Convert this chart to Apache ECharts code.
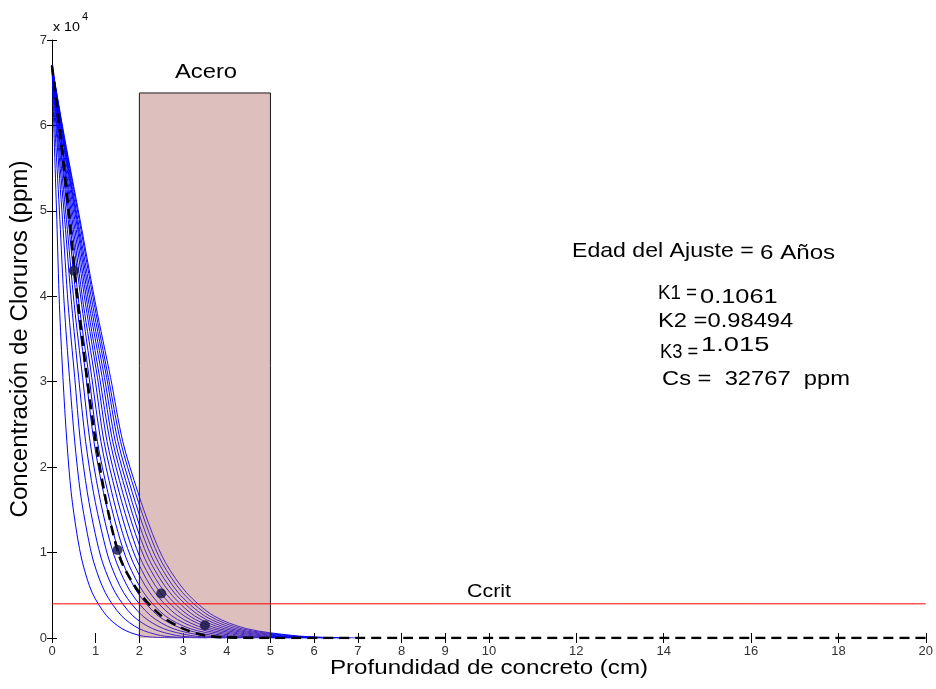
<!DOCTYPE html>
<html><head><meta charset="utf-8">
<script src="https://cdn.jsdelivr.net/npm/echarts@6/dist/echarts.min.js"></script>
<style>html,body{margin:0;padding:0;background:#fff}#c{width:936px;height:689px}</style>
</head><body><div id="c"></div>
<script>
// ---- data ----
const xTicks = [0,1,2,3,4,5,6,7,8,9,10,12,14,16,18,20];
const yTicks = [0,10000,20000,30000,40000,50000,60000,70000];
// concentration levels (ppm) at which each curve's depth (cm) was read
const levels = [67000,58500,49000,39000,30500,23000,17000,12200,8800,5300,2600,1100,300,80,0];
const curve01 = [0,0.05,0.11,0.17,0.25,0.34,0.44,0.57,0.70,0.92,1.25,1.60,2.00,2.40,3.00];
const curve02 = [0,0.08,0.18,0.28,0.40,0.52,0.65,0.81,0.96,1.22,1.59,1.99,2.48,2.92,3.55];
const curve03 = [0,0.11,0.24,0.37,0.52,0.65,0.81,0.99,1.16,1.45,1.85,2.30,2.85,3.33,3.98];
const curve04 = [0,0.13,0.29,0.45,0.61,0.77,0.95,1.15,1.33,1.64,2.07,2.55,3.17,3.67,4.33];
const curve05 = [0,0.15,0.33,0.51,0.70,0.87,1.07,1.28,1.48,1.81,2.26,2.77,3.44,3.97,4.65];
const curve06 = [0,0.17,0.37,0.57,0.78,0.96,1.18,1.41,1.62,1.96,2.43,2.98,3.69,4.24,4.93];
const curve07 = [0,0.18,0.40,0.62,0.85,1.04,1.28,1.52,1.74,2.10,2.59,3.16,3.92,4.48,5.19];
const curve08 = [0,0.20,0.43,0.68,0.91,1.12,1.37,1.62,1.86,2.24,2.74,3.34,4.13,4.71,5.44];
const curve09 = [0,0.21,0.46,0.72,0.98,1.19,1.46,1.72,1.97,2.36,2.88,3.50,4.33,4.93,5.67];
const curve10 = [0,0.22,0.49,0.77,1.04,1.26,1.54,1.82,2.07,2.48,3.02,3.66,4.52,5.14,5.88];
const curve11 = [0,0.24,0.52,0.81,1.09,1.33,1.62,1.91,2.17,2.59,3.14,3.80,4.70,5.33,6.09];
const curve12 = [0,0.25,0.55,0.85,1.15,1.39,1.70,1.99,2.26,2.70,3.26,3.94,4.88,5.52,6.29];
const curve13 = [0,0.26,0.57,0.89,1.20,1.45,1.77,2.07,2.35,2.80,3.38,4.07,5.04,5.70,6.47];
const curve14 = [0,0.27,0.59,0.93,1.25,1.51,1.84,2.15,2.44,2.89,3.49,4.20,5.20,5.87,6.66];
const curve15 = [0,0.28,0.62,0.97,1.29,1.57,1.91,2.23,2.52,2.99,3.60,4.33,5.35,6.04,6.83];
const curve16 = [0,0.29,0.64,1.00,1.34,1.62,1.97,2.30,2.60,3.08,3.70,4.45,5.50,6.20,7.00];
const blueCurves = [curve01,curve02,curve03,curve04,curve05,curve06,curve07,curve08,
                    curve09,curve10,curve11,curve12,curve13,curve14,curve15,curve16];
// fitted profile (dashed)
const fitDepth = [0,0.2,0.4,0.6,0.8,1.0,1.2,1.4,1.6,2.0,2.5,3.0,3.5,4.0,5.0,20];
const fitConc  = [67000,58500,49000,39000,30500,23000,17000,12200,8800,5300,2600,1100,300,80,0,0];
// measured points
const measDepth = [0.5,1.5,2.5,3.5];
const measConc  = [43000,10300,5200,1500];
// critical concentration and steel zone
const ccrit = 4000;
const steelFrom = 2, steelTo = 5, steelTop = 63800;

// ---- chart ----
const FONT = '"Liberation Sans", Arial, sans-serif';
const chart = echarts.init(document.getElementById('c'), null, {renderer:'canvas'});
const pairs = (xs, ys) => xs.map((x,i)=>[x, ys[i]]);

const series = [];
blueCurves.forEach((c,i)=>{
  series.push({type:'line', name:'c'+i, data:pairs(c, levels), smooth:0.3,
    symbol:'none', lineStyle:{color:'#0000ff', width:1}, z:2, silent:true, animation:false});
});
series.push({type:'line', name:'acero', data:[[steelFrom,0],[steelFrom,steelTop],[steelTo,steelTop],[steelTo,0]],
  symbol:'none', lineStyle:{color:'#1a1a1a', width:1},
  areaStyle:{color:'rgb(170,95,92)', opacity:0.4, origin:'start'}, z:3, animation:false});
series.push({type:'line', name:'ccrit', data:[[0,ccrit],[20,ccrit]], symbol:'none',
  lineStyle:{color:'#ff0000', width:1}, z:4, animation:false});
series.push({type:'line', name:'fit', data:pairs(fitDepth, fitConc), smooth:0.3, symbol:'none',
  lineStyle:{color:'#000', width:2.6, type:[10,6]}, z:5, animation:false});
series.push({type:'scatter', name:'meas', data:pairs(measDepth, measConc), symbol:'circle', symbolSize:10,
  itemStyle:{color:'#101040'}, z:6, animation:false});

const tickStyle = {inside:true, length:5, lineStyle:{color:'#000', width:1}};
const labelStyle = {fontSize:13, color:'#333', fontFamily:FONT};

const txt = (text, x, y, size, opts={}) => ({
  type:'text', x, y, scaleX: opts.sx || 1.13, rotation: opts.rot || 0, z:20,
  style:{text, fill:'#000', font: size+'px '+FONT, textAlign: opts.align||'left', align: opts.align||'left',
         textVerticalAlign:'middle', verticalAlign:'middle'}
});

chart.setOption({
  animation:false,
  backgroundColor:'#fff',
  grid:{left:52, right:5, top:40, bottom:51, containLabel:false},
  xAxis:[
    {type:'value', min:0, max:20, position:'bottom', axisLine:{show:false}, splitLine:{show:false},
     axisTick:Object.assign({customValues:xTicks}, tickStyle),
     axisLabel:Object.assign({customValues:xTicks, margin:7}, labelStyle)},
    {type:'value', min:0, max:20, position:'top', axisLine:{show:false}, splitLine:{show:false},
     axisTick:Object.assign({customValues:xTicks}, tickStyle), axisLabel:{show:false}}
  ],
  yAxis:[
    {type:'value', min:0, max:70000, interval:10000, position:'left', axisLine:{show:false}, splitLine:{show:false},
     axisTick:tickStyle, axisLabel:Object.assign({margin:5, formatter:v=>String(v/10000)}, labelStyle)},
    {type:'value', min:0, max:70000, interval:10000, position:'right', axisLine:{show:true, lineStyle:{color:'#000', width:1}},
     splitLine:{show:false}, axisTick:tickStyle, axisLabel:{show:false}}
  ],
  series,
  graphic:[
    txt('Concentración de Cloruros (ppm)', 21, 339, 23, {align:'center', rot:Math.PI/2, sx:1.05}),
    txt('Profundidad de concreto (cm)', 489, 668, 21, {align:'center', sx:1.15}),
    txt('x 10', 53, 27, 13, {sx:1.1}),
    txt('4', 82, 17, 10, {sx:1.1}),
    txt('Acero', 206, 72, 20, {align:'center', sx:1.19}),
    txt('Ccrit', 489, 592, 18, {align:'center', sx:1.19}),
    txt('Edad del Ajuste =', 572, 251, 21, {sx:1.10}),
    txt('6 Años', 760, 253, 21, {sx:1.15}),
    txt('K1 =', 658, 293, 21, {sx:0.89}),
    txt('0.1061', 700, 297.5, 21, {sx:1.21}),
    txt('K2 =0.98494', 658, 321, 21, {sx:1.13}),
    txt('K3 =', 660, 352.5, 21, {sx:0.87}),
    txt('1.015', 701, 345.5, 21, {sx:1.3}),
    txt('Cs =  32767  ppm', 662, 379, 21, {sx:1.13})
  ]
});
</script></body></html>
